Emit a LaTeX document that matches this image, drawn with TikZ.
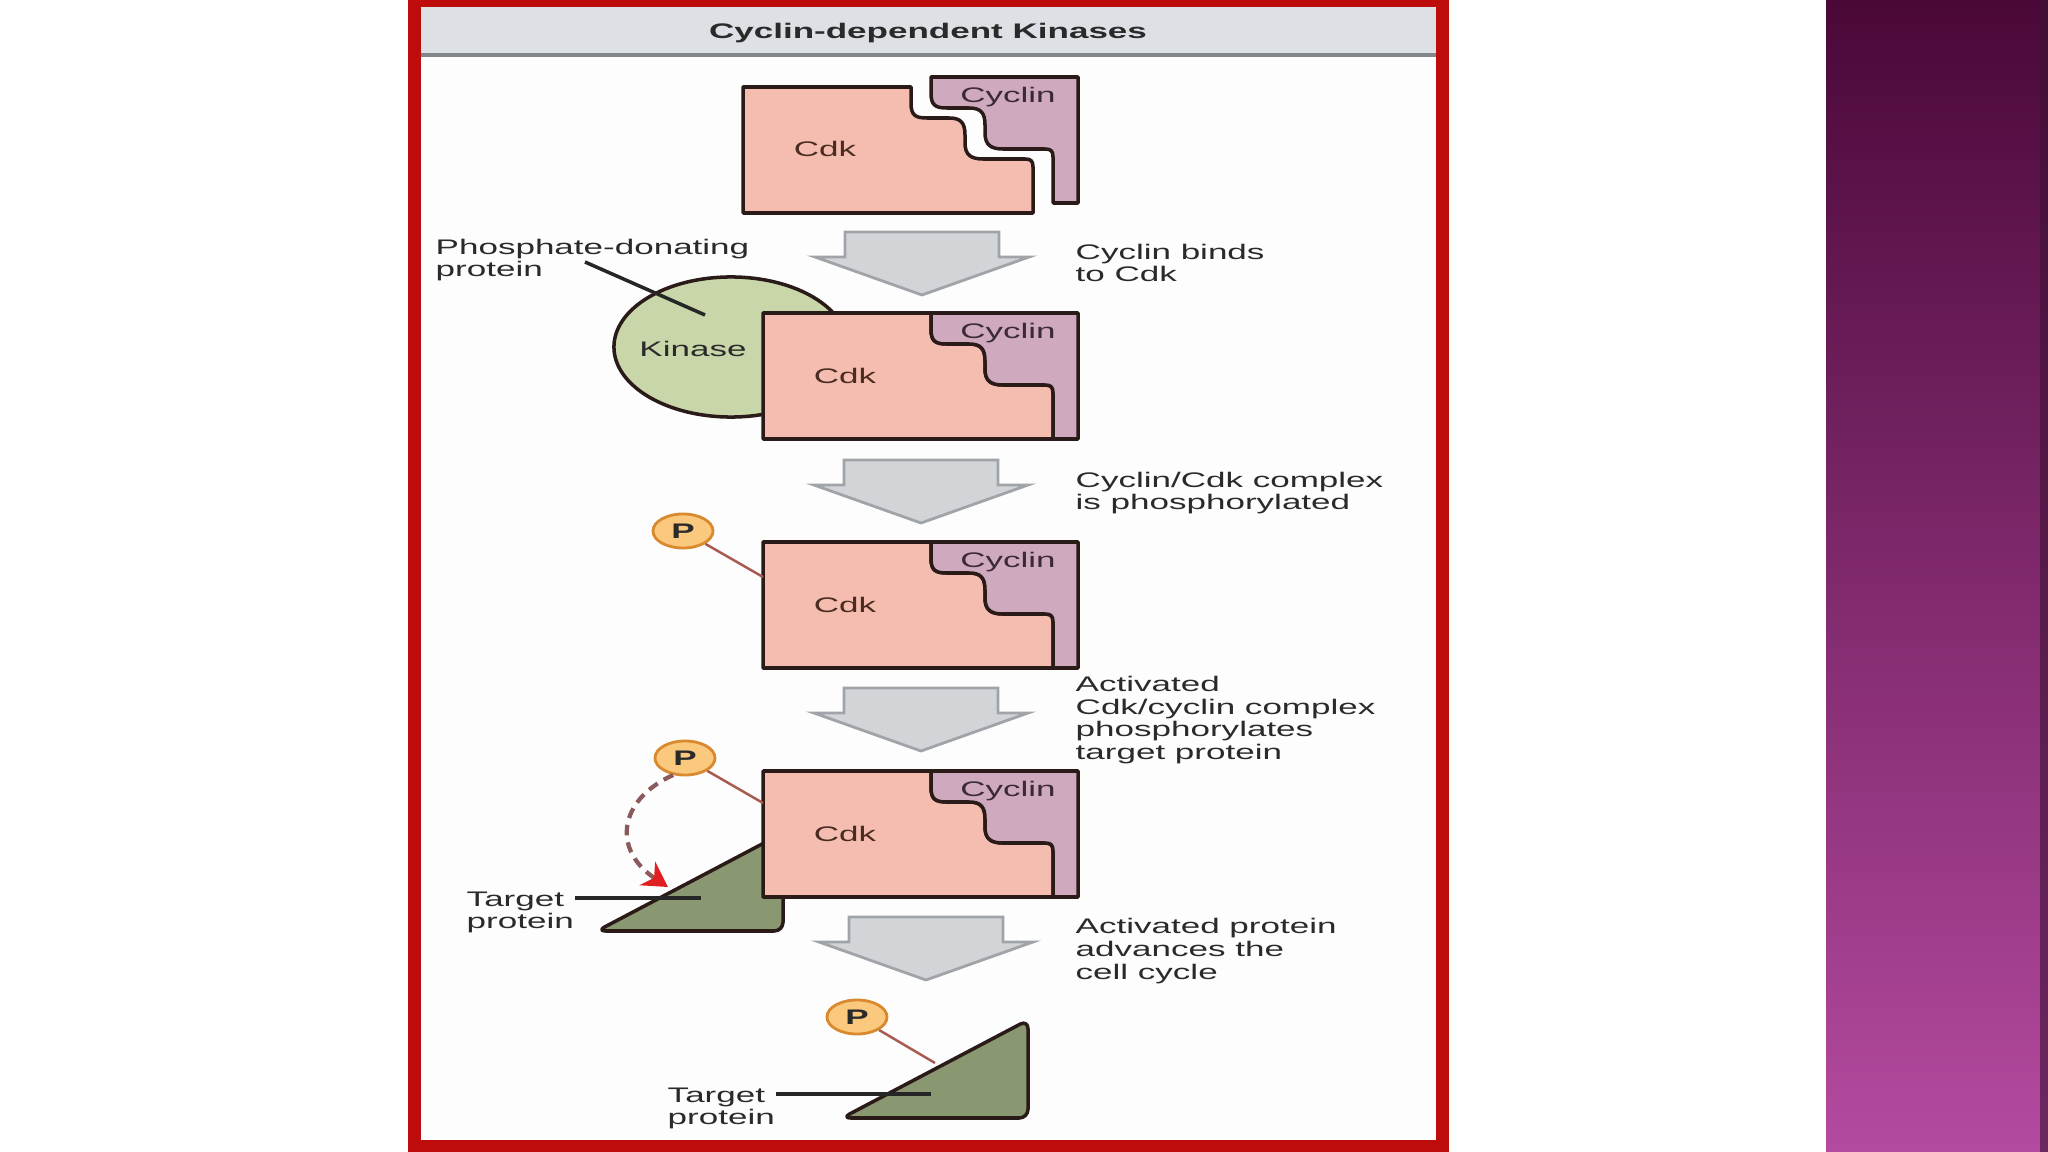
\documentclass[tikz,border=0pt]{standalone}
\usepackage{fontspec}
\setmainfont{Liberation Sans}
\usepackage{graphicx}
\usetikzlibrary{shapes.geometric,arrows.meta}

\definecolor{framered}{HTML}{BE0C0C}
\definecolor{titlebg}{HTML}{DDE1E6}
\definecolor{titleline}{HTML}{80868C}
\definecolor{panelbg}{HTML}{FDFDFD}
\definecolor{cdkfill}{HTML}{F4BDB0}
\definecolor{cycfill}{HTML}{CFAABF}
\definecolor{kinfill}{HTML}{C9D6A9}
\definecolor{tgtfill}{HTML}{8A9872}
\definecolor{pfill}{HTML}{FAC97E}
\definecolor{pdraw}{HTML}{D98A2E}
\definecolor{plinkc}{HTML}{A85A50}
\definecolor{arrowfill}{HTML}{D2D5D8}
\definecolor{arrowdraw}{HTML}{A0A4A8}
\definecolor{txt}{HTML}{2A2A2A}
\definecolor{cdktxt}{HTML}{4A2C22}
\definecolor{cyctxt}{HTML}{3B2A35}
\definecolor{outline}{HTML}{2A1A18}
\definecolor{purpTop}{HTML}{4A0838}
\definecolor{purpMid}{HTML}{7E2E6E}
\definecolor{purpBot}{HTML}{B44AA0}
\definecolor{purpEdge}{HTML}{3C1234}
\definecolor{dashc}{HTML}{8C5A5A}
\definecolor{tipred}{HTML}{E02020}

\newcommand\sx[1]{\scalebox{1.66}[1]{\begin{tabular}{@{}l@{}}#1\end{tabular}}}

\tikzset{
  lbl/.style={font=\fontsize{6}{6.5}\selectfont, text=txt, inner sep=0pt, anchor=west, yshift=-1.1pt},
  inlbl/.style={font=\fontsize{6}{6.5}\selectfont, inner sep=0pt, yshift=-1.1pt},
  shapeline/.style={draw=outline, line width=1pt, line join=round},
  pnode/.style={ellipse, draw=pdraw, fill=pfill, line width=0.8pt, minimum width=0.6cm, minimum height=0.34cm, inner sep=0pt, font=\bfseries\fontsize{6}{6.5}\selectfont, text=txt},
  plink/.style={draw=plinkc, line width=0.7pt},
  pointer/.style={draw=black!85, line width=1pt},
  blockarrow/.style={fill=arrowfill, draw=arrowdraw, line width=0.8pt, line join=miter},
  dasharrow/.style={draw=dashc, line width=1.2pt, dash pattern=on 3pt off 2pt, -{Stealth[length=7pt,width=8pt,color=tipred,fill=tipred]}},
}

\newcommand\cdkshape{(0,0) -- (168,0) -- (168,16) .. controls (168,28) and (172,31) .. (184,31) -- (206,31) .. controls (218,31) and (222,36) .. (222,48) -- (222,56) .. controls (222,68) and (228,72) .. (240,72) -- (282,72) .. controls (288,72) and (290,74) .. (290,80) -- (290,126) -- (0,126) -- cycle}
\newcommand\cycshape{(168,0) -- (315,0) -- (315,126) -- (290,126) -- (290,80) .. controls (290,74) and (288,72) .. (282,72) -- (240,72) .. controls (228,72) and (222,68) .. (222,56) -- (222,48) .. controls (222,36) and (218,31) .. (206,31) -- (184,31) .. controls (172,31) and (168,28) .. (168,16) -- cycle}

\newcommand\cdkcomplex[3]{%
  \begin{scope}[shift={(#1,#2)}]
    \filldraw[shapeline, fill=cdkfill] \cdkshape;
    \filldraw[shapeline, fill=cycfill] \cycshape;
    \node[inlbl, text=cdktxt] (#3cdk) at (82,62) {\sx{Cdk}};
    \node[inlbl, text=cyctxt] (#3cyc) at (245,17) {\sx{Cyclin}};
  \end{scope}}

\newcommand\blockarrow[2]{%
  \filldraw[blockarrow] (#1-77,#2) -- (#1+77,#2) -- (#1+77,#2+25) -- (#1+107,#2+25) -- (#1,#2+63) -- (#1-107,#2+25) -- (#1-77,#2+25) -- cycle;}

\newcommand\target[2]{%
  \filldraw[shapeline, fill=tgtfill, rounded corners=2.5pt] (#1,#2) -- (#1+186,#2) -- (#1+186,#2-98) -- cycle;}

\begin{document}
\begin{tikzpicture}[x=0.01cm, y=-0.01cm]
\useasboundingbox (0,0) rectangle (2048,1152);
\fill[white] (0,0) rectangle (2048,1152);

% right purple panel
\shade[top color=purpTop, middle color=purpMid, bottom color=purpBot] (1826,0) rectangle (2048,1152);
\fill[purpEdge, opacity=0.6] (2040,0) rectangle (2048,1152);

% frame
\fill[framered] (408,0) rectangle (1449,1152);
\fill[panelbg] (421,7) rectangle (1436,1140);
\fill[titlebg] (421,7) rectangle (1436,55);
\draw[titleline, line width=1pt] (421,55) -- (1436,55);
\node[inner sep=0pt, font=\bfseries\fontsize{6}{6.5}\selectfont, text=txt, yshift=-1.1pt] (title) at (928,30) {\sx{Cyclin-dependent Kinases}};

% step 1: unbound complex
\begin{scope}[shift={(743,87)}]
  \filldraw[shapeline, fill=cdkfill] \cdkshape;
  \begin{scope}[shift={(20,-10)}]
    \filldraw[shapeline, fill=cycfill] \cycshape;
  \end{scope}
  \node[inlbl, text=cdktxt] (c1cdk) at (82,61) {\sx{Cdk}};
  \node[inlbl, text=cyctxt] (c1cyc) at (265,7) {\sx{Cyclin}};
\end{scope}

% arrows
\blockarrow{922}{232}
\blockarrow{921}{460}
\blockarrow{921}{688}
\blockarrow{926}{917}

% step labels
\node[lbl] (l1) at (1075,262) {\sx{Cyclin binds\\to Cdk}};
\node[lbl] (l2) at (1075,490) {\sx{Cyclin/Cdk complex\\is phosphorylated}};
\node[lbl] (l3) at (1075,717) {\sx{Activated\\Cdk/cyclin complex\\phosphorylates\\target protein}};
\node[lbl] (l4) at (1075,948) {\sx{Activated protein\\advances the\\cell cycle}};

% step 2: kinase + complex
\node[ellipse, draw=outline, fill=kinfill, line width=1pt, minimum width=2.34cm, minimum height=1.4cm, inner sep=0pt] (kin) at (731,347) {};
\node[inlbl, text=txt] (kinlbl) at (693,348) {\sx{Kinase}};
\cdkcomplex{763}{313}{c2}
\node[lbl] (pdlbl) at (435,257) {\sx{Phosphate-donating\\protein}};
\coordinate (pd1) at (585,262);
\coordinate (pd2) at (705,315);
\draw[pointer] (pd1) -- (pd2);

% step 3: phosphorylated complex
\cdkcomplex{763}{542}{c3}
\node[pnode] (p3) at (683,531) {\scalebox{1.66}[1]{P}};
\coordinate (b3w) at (763,577);
\draw[plink] (p3) -- (b3w);

% step 4: complex + target protein
\target{597}{931}
\cdkcomplex{763}{771}{c4}
\node[pnode] (p4) at (685,758) {\scalebox{1.66}[1]{P}};
\coordinate (b4w) at (763,803);
\draw[plink] (p4) -- (b4w);
\coordinate (t1tip) at (668,887);
\draw[dasharrow] (p4.235) .. controls (618,800) and (612,850) .. (t1tip);
\node[lbl] (tl1) at (466,909) {\sx{Target\\protein}};
\coordinate (tp1a) at (575,898);
\coordinate (tp1b) at (701,898);
\draw[pointer] (tp1a) -- (tp1b);

% step 5: activated target protein
\target{842}{1118}
\node[pnode] (p5) at (857,1017) {\scalebox{1.66}[1]{P}};
\coordinate (t2w) at (935,1063);
\draw[plink] (p5) -- (t2w);
\node[lbl] (tl2) at (667,1105) {\sx{Target\\protein}};
\coordinate (tp2a) at (776,1094);
\coordinate (tp2b) at (931,1094);
\draw[pointer] (tp2a) -- (tp2b);
\end{tikzpicture}
\end{document}
